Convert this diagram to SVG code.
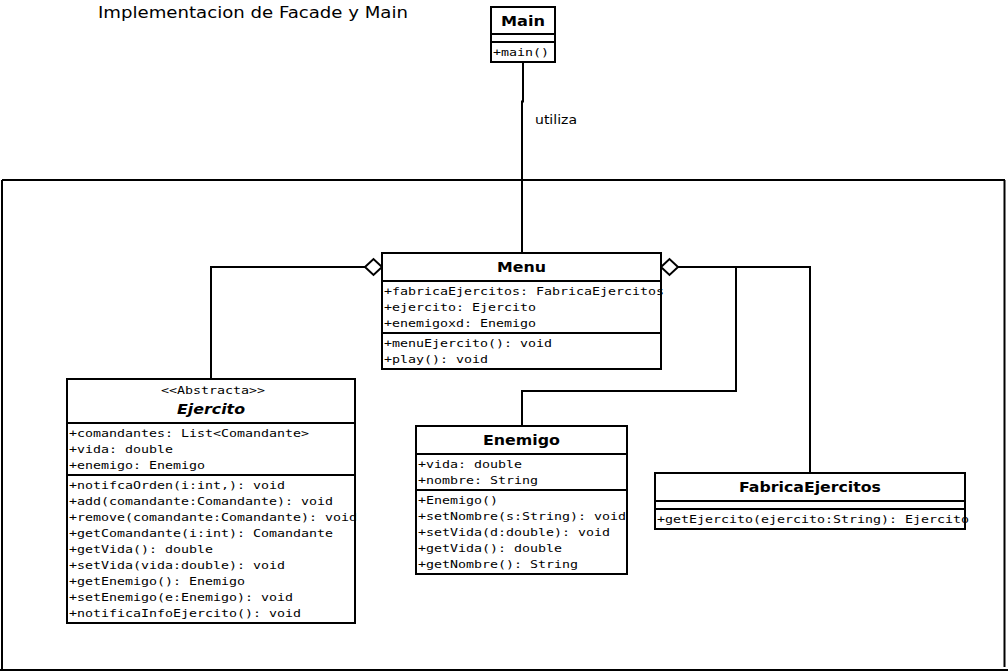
<svg xmlns="http://www.w3.org/2000/svg" width="1008" height="671" viewBox="0 0 1008 671">
<style>
.box{fill:#fff;stroke:#000;stroke-width:2}
.sep{stroke:#000;stroke-width:2}
.con{fill:none;stroke:#000;stroke-width:2}
.dia{fill:#fff;stroke:#000;stroke-width:2}
.frame{fill:none;stroke:#000;stroke-width:2}
.t{font-family:"DejaVu Sans",sans-serif;font-size:14px;font-weight:bold;fill:#000}
.m{font-family:"DejaVu Sans Mono",monospace;font-size:11px;fill:#000}
.lbl{font-family:"DejaVu Sans",sans-serif;fill:#000}
</style>
<rect width="1008" height="671" fill="#fff"/>
<text class="lbl" x="98" y="18" font-size="15.5" textLength="310" lengthAdjust="spacingAndGlyphs">Implementacion de Facade y Main</text>
<g id="frame">
<path class="frame" d="M2,180 H1005 M2,180 V670 M1004.5,180 V667 M0,670 H1008"/>
</g>
<g id="connectors">
<path class="con" d="M523,62 V101.5 H522 V253"/>
<text class="lbl" x="535" y="123.5" font-size="12" textLength="42" lengthAdjust="spacingAndGlyphs">utiliza</text>
<path class="con" d="M365,267 H211 V379"/>
<path class="con" d="M678,267 H810 V473"/>
<path class="con" d="M736,267 V391 H522 V426"/>
<polygon class="dia" points="365,267 373.5,259 382,267 373.5,275"/>
<polygon class="dia" points="661,267 669.5,259 678,267 669.5,275"/>
</g>
<g id="Main">
<rect class="box" x="491" y="7" width="64" height="55"/>
<line class="sep" x1="491" y1="34" x2="555" y2="34"/>
<line class="sep" x1="491" y1="42" x2="555" y2="42"/>
<text class="t" x="501" y="25.5" textLength="44" lengthAdjust="spacingAndGlyphs">Main</text>
<text class="m" x="493" y="56" textLength="56" lengthAdjust="spacingAndGlyphs">+main()</text>
</g>
<g id="Menu">
<rect class="box" x="382" y="253" width="279" height="116"/>
<line class="sep" x1="382" y1="281" x2="661" y2="281"/>
<line class="sep" x1="382" y1="333" x2="661" y2="333"/>
<text class="t" x="497" y="271.5" textLength="49" lengthAdjust="spacingAndGlyphs">Menu</text>
<text class="m" x="384" y="294.5" textLength="280" lengthAdjust="spacingAndGlyphs">+fabricaEjercitos: FabricaEjercitos</text>
<text class="m" x="384" y="310.5" textLength="152" lengthAdjust="spacingAndGlyphs">+ejercito: Ejercito</text>
<text class="m" x="384" y="326.5" textLength="152" lengthAdjust="spacingAndGlyphs">+enemigoxd: Enemigo</text>
<text class="m" x="384" y="346.5" textLength="168" lengthAdjust="spacingAndGlyphs">+menuEjercito(): void</text>
<text class="m" x="384" y="362.5" textLength="104" lengthAdjust="spacingAndGlyphs">+play(): void</text>
</g>
<g id="Ejercito">
<rect class="box" x="67" y="379" width="288" height="244"/>
<line class="sep" x1="67" y1="423" x2="355" y2="423"/>
<line class="sep" x1="67" y1="475" x2="355" y2="475"/>
<text class="m" x="161" y="394" font-size="10.5" textLength="104" lengthAdjust="spacingAndGlyphs">&lt;&lt;Abstracta&gt;&gt;</text>
<text class="t" x="177" y="413.5" font-style="italic" textLength="68" lengthAdjust="spacingAndGlyphs">Ejercito</text>
<text class="m" x="69" y="436.5" textLength="240" lengthAdjust="spacingAndGlyphs">+comandantes: List&lt;Comandante&gt;</text>
<text class="m" x="69" y="452.5" textLength="104" lengthAdjust="spacingAndGlyphs">+vida: double</text>
<text class="m" x="69" y="468.5" textLength="136" lengthAdjust="spacingAndGlyphs">+enemigo: Enemigo</text>
<text class="m" x="69" y="488.5" textLength="216" lengthAdjust="spacingAndGlyphs">+notifcaOrden(i:int,): void</text>
<text class="m" x="69" y="504.5" textLength="264" lengthAdjust="spacingAndGlyphs">+add(comandante:Comandante): void</text>
<text class="m" x="69" y="520.5" textLength="288" lengthAdjust="spacingAndGlyphs">+remove(comandante:Comandante): void</text>
<text class="m" x="69" y="536.5" textLength="264" lengthAdjust="spacingAndGlyphs">+getComandante(i:int): Comandante</text>
<text class="m" x="69" y="552.5" textLength="144" lengthAdjust="spacingAndGlyphs">+getVida(): double</text>
<text class="m" x="69" y="568.5" textLength="216" lengthAdjust="spacingAndGlyphs">+setVida(vida:double): void</text>
<text class="m" x="69" y="584.5" textLength="176" lengthAdjust="spacingAndGlyphs">+getEnemigo(): Enemigo</text>
<text class="m" x="69" y="600.5" textLength="224" lengthAdjust="spacingAndGlyphs">+setEnemigo(e:Enemigo): void</text>
<text class="m" x="69" y="616.5" textLength="232" lengthAdjust="spacingAndGlyphs">+notificaInfoEjercito(): void</text>
</g>
<g id="Enemigo">
<rect class="box" x="416" y="426" width="211" height="148"/>
<line class="sep" x1="416" y1="454" x2="627" y2="454"/>
<line class="sep" x1="416" y1="490" x2="627" y2="490"/>
<text class="t" x="483" y="445" textLength="77" lengthAdjust="spacingAndGlyphs">Enemigo</text>
<text class="m" x="418" y="467.5" textLength="104" lengthAdjust="spacingAndGlyphs">+vida: double</text>
<text class="m" x="418" y="483.5" textLength="120" lengthAdjust="spacingAndGlyphs">+nombre: String</text>
<text class="m" x="418" y="503.5" textLength="80" lengthAdjust="spacingAndGlyphs">+Enemigo()</text>
<text class="m" x="418" y="519.5" textLength="208" lengthAdjust="spacingAndGlyphs">+setNombre(s:String): void</text>
<text class="m" x="418" y="535.5" textLength="192" lengthAdjust="spacingAndGlyphs">+setVida(d:double): void</text>
<text class="m" x="418" y="551.5" textLength="144" lengthAdjust="spacingAndGlyphs">+getVida(): double</text>
<text class="m" x="418" y="567.5" textLength="160" lengthAdjust="spacingAndGlyphs">+getNombre(): String</text>
</g>
<g id="FabricaEjercitos">
<rect class="box" x="655" y="473" width="310" height="56"/>
<line class="sep" x1="655" y1="501" x2="965" y2="501"/>
<line class="sep" x1="655" y1="509" x2="965" y2="509"/>
<text class="t" x="739" y="491.5" textLength="142" lengthAdjust="spacingAndGlyphs">FabricaEjercitos</text>
<text class="m" x="657" y="522.5" textLength="312" lengthAdjust="spacingAndGlyphs">+getEjercito(ejercito:String): Ejercito</text>
</g>
</svg>
